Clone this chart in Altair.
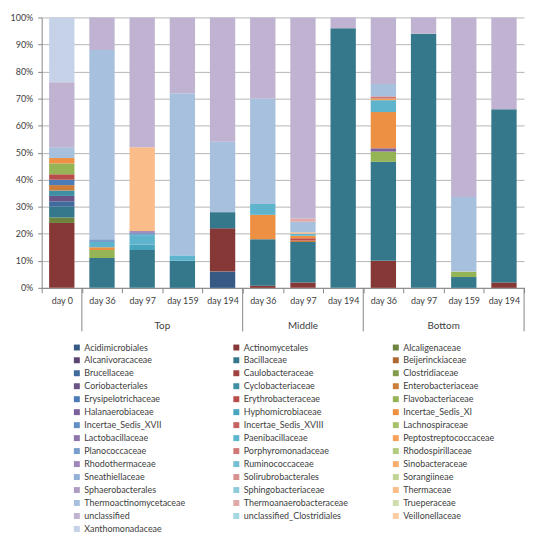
import altair as alt
import pandas as pd

# ---- categories ----
bars = ["0|day 0", "T|day 36", "T|day 97", "T|day 159", "T|day 194",
        "M|day 36", "M|day 97", "M|day 194",
        "B|day 36", "B|day 97", "B|day 159", "B|day 194"]

series = [
    "Acidimicrobiales", "Actinomycetales", "Alcaligenaceae",
    "Alcanivoracaceae", "Bacillaceae", "Beijerinckiaceae",
    "Brucellaceae", "Caulobacteraceae", "Clostridiaceae",
    "Coriobacteriales", "Cyclobacteriaceae", "Enterobacteriaceae",
    "Erysipelotrichaceae", "Erythrobacteraceae", "Flavobacteriaceae",
    "Halanaerobiaceae", "Hyphomicrobiaceae", "Incertae_Sedis_XI",
    "Incertae_Sedis_XVII", "Incertae_Sedis_XVIII", "Lachnospiraceae",
    "Lactobacillaceae", "Paenibacillaceae", "Peptostreptococcaceae",
    "Planococcaceae", "Porphyromonadaceae", "Rhodospirillaceae",
    "Rhodothermaceae", "Ruminococcaceae", "Sinobacteraceae",
    "Sneathiellaceae", "Solirubrobacterales", "Sorangiineae",
    "Sphaerobacterales", "Sphingobacteriaceae", "Thermaceae",
    "Thermoactinomycetaceae", "Thermoanaerobacteraceae", "Trueperaceae",
    "unclassified", "unclassified_Clostridiales", "Veillonellaceae",
    "Xanthomonadaceae",
]

# ---- values (% per bar, order as in `bars`) ----
acidimicrobiales = [0, 0, 0, 0, 6, 0, 0, 0, 0, 0, 0, 0]
actinomycetales = [24, 0, 0, 0, 16, 0.8, 2, 0, 10, 0, 0, 2]
alcaligenaceae = [2, 0, 0, 0, 0, 0, 0, 0, 0, 0, 0, 0]
bacillaceae = [4, 11, 14, 10, 6, 17.2, 15, 96, 36.6, 94, 4, 64]
brucellaceae = [2, 0, 0, 0, 0, 0, 0, 0, 0, 0, 0, 0]
coriobacteriales = [2, 0, 0, 0, 0, 0, 0, 0, 0, 0, 0, 0]
cyclobacteriaceae = [2, 0, 0, 0, 0, 0, 0, 0, 0, 0, 0, 0]
enterobacteriaceae = [2, 0, 0, 0, 0, 0, 0.5, 0, 0, 0, 0, 0]
erysipelotrichaceae = [2, 0, 0, 0, 0, 0, 0, 0, 0, 0, 0, 0]
erythrobacteraceae = [2, 0, 0, 0, 0, 0, 0.8, 0, 0, 0, 0, 0]
flavobacteriaceae = [4, 3, 0, 0, 0, 0, 0, 0, 3.8, 0, 2, 0]
halanaerobiaceae = [0, 0, 0, 0, 0, 0, 0, 0, 1.2, 0, 0, 0]
hyphomicrobiaceae = [0, 0, 2, 0, 0, 0, 0, 0, 0, 0, 0, 0]
incertae_sedis_xi = [2, 1, 0, 0, 0, 9, 1.0, 0, 13.4, 0, 0, 0]
paenibacillaceae = [0, 2, 3.5, 2, 0, 4, 0.7, 0, 4.4, 0, 0, 0]
peptostreptococcaceae = [0, 0, 0, 0, 0, 0, 0, 0, 0.6, 0, 0, 0]
planococcaceae = [0, 1, 0.8, 0, 0, 0, 0, 0, 0, 0, 0, 0]
porphyromonadaceae = [0, 0, 0, 0, 0, 0, 0, 0, 0.8, 0, 0, 0]
rhodothermaceae = [0, 0, 0.7, 0, 0, 0, 0, 0, 0, 0, 0, 0]
thermaceae = [0, 0, 31, 0, 0, 0, 0.6, 0, 0, 0, 0, 0]
thermoactinomycetaceae = [4, 70, 0, 60, 26, 39, 3.8, 0, 4.6, 0, 27.6, 0]
thermoanaerobacteraceae = [0, 0, 0, 0, 0, 0, 1.2, 0, 0, 0, 0, 0]
unclassified = [24, 12, 48, 28, 46, 30, 74.4, 4, 24.6, 6, 66.4, 34]
xanthomonadaceae = [24, 0, 0, 0, 0, 0, 0, 0, 0, 0, 0, 0]

values = {
    "Acidimicrobiales": acidimicrobiales,
    "Actinomycetales": actinomycetales,
    "Alcaligenaceae": alcaligenaceae,
    "Bacillaceae": bacillaceae,
    "Brucellaceae": brucellaceae,
    "Coriobacteriales": coriobacteriales,
    "Cyclobacteriaceae": cyclobacteriaceae,
    "Enterobacteriaceae": enterobacteriaceae,
    "Erysipelotrichaceae": erysipelotrichaceae,
    "Erythrobacteraceae": erythrobacteraceae,
    "Flavobacteriaceae": flavobacteriaceae,
    "Halanaerobiaceae": halanaerobiaceae,
    "Hyphomicrobiaceae": hyphomicrobiaceae,
    "Incertae_Sedis_XI": incertae_sedis_xi,
    "Paenibacillaceae": paenibacillaceae,
    "Peptostreptococcaceae": peptostreptococcaceae,
    "Planococcaceae": planococcaceae,
    "Porphyromonadaceae": porphyromonadaceae,
    "Rhodothermaceae": rhodothermaceae,
    "Thermaceae": thermaceae,
    "Thermoactinomycetaceae": thermoactinomycetaceae,
    "Thermoanaerobacteraceae": thermoanaerobacteraceae,
    "unclassified": unclassified,
    "Xanthomonadaceae": xanthomonadaceae,
}

groups_edge = ["Top", "Bottom"]
groups_edge_keys = ["T|day 159", "B|day 159"]
groups_mid = ["Middle"]
groups_mid_keys = ["M|day 97"]
separator_keys = ["T|day 36", "M|day 36", "B|day 36"]
end_keys = ["B|day 194"]

# ---- style ----
colors = [
    "#375A84", "#863836", "#6D833E", "#5A4671", "#35788B", "#AD6931",
    "#426B9D", "#9F4240", "#819B4A", "#6A5386", "#3E8FA4", "#CD7D3A",
    "#4C7CB5", "#B84D4A", "#95B455", "#7B609C", "#48A5BE", "#ED9043",
    "#618EC4", "#C6625F", "#A5C26A", "#8D74AB", "#5DB4CC", "#F8A159",
    "#789ECC", "#CF7876", "#B2CB7F", "#9D88B7", "#74BFD3", "#F9AE71",
    "#90B0D5", "#D7918F", "#C0D496", "#AF9DC4", "#8ECBDB", "#FABD8A",
    "#A7C0DE", "#E0A8A6", "#CDDDAC", "#C0B2D1", "#A5D6E3", "#FBCBA3",
    "#C6D2E8",
]

rows = []
for name, vals in values.items():
    idx = series.index(name)
    for b, v in zip(bars, vals):
        if v > 0:
            rows.append({"key": b, "taxon": name, "idx": idx, "value": v})
df = pd.DataFrame(rows)

W, H = 487, 273
xscale = alt.Scale(domain=bars, paddingInner=0, paddingOuter=0)
xaxis = alt.Axis(labelExpr="split(datum.value, '|')[1]", labelAngle=0,
                 tickBand="extent", ticks=True, tickSize=5,
                 tickColor="#868686", domainColor="#868686",
                 labelPadding=4, labelFontSize=9, labelColor="#404040",
                 grid=False, title=None, labelOverlap=False)

bar_layer = alt.Chart(df).mark_bar(width=alt.RelativeBandSize(0.63)).encode(
    x=alt.X("key:N", scale=xscale, axis=xaxis),
    y=alt.Y("value:Q", stack="zero", title=None,
            scale=alt.Scale(domain=[0, 100], nice=False),
            axis=alt.Axis(values=list(range(0, 101, 10)),
                          labelExpr="datum.value + '%'",
                          tickSize=4, labelPadding=5, tickColor="#868686",
                          domainColor="#868686", gridColor="#B5B5B5",
                          labelFontSize=9, labelColor="#404040")),
    color=alt.Color("taxon:N", scale=alt.Scale(domain=series, range=colors),
                    legend=alt.Legend(orient="none", legendX=31, legendY=328.5,
                                      direction="horizontal",
                                      columns=3, gridAlign="all", title=None,
                                      symbolType="square", symbolSize=36,
                                      symbolStrokeWidth=0, labelFontSize=9,
                                      labelColor="#404040", labelLimit=220,
                                      symbolLimit=0,
                                      rowPadding=3.1, columnPadding=43,
                                      padding=0, labelOffset=3)),
    order=alt.Order("idx:Q", sort="ascending"),
)

edge_df = pd.DataFrame({"key": groups_edge_keys, "label": groups_edge})
mid_df = pd.DataFrame({"key": groups_mid_keys, "label": groups_mid})
sep_df = pd.DataFrame({"key": separator_keys})
end_df = pd.DataFrame({"key": end_keys})

text_edge = alt.Chart(edge_df).mark_text(fontSize=10, color="#404040", baseline="middle").encode(
    x=alt.X("key:N", scale=xscale, bandPosition=0, axis=xaxis),
    y=alt.value(312), text="label:N")
text_mid = alt.Chart(mid_df).mark_text(fontSize=10, color="#404040", baseline="middle").encode(
    x=alt.X("key:N", scale=xscale, bandPosition=0.5, axis=xaxis),
    y=alt.value(312), text="label:N")
sep_rules = alt.Chart(sep_df).mark_rule(color="#868686", strokeWidth=1).encode(
    x=alt.X("key:N", scale=xscale, bandPosition=0, axis=xaxis),
    y=alt.value(H), y2=alt.value(317))
end_rules = alt.Chart(end_df).mark_rule(color="#868686", strokeWidth=1).encode(
    x=alt.X("key:N", scale=xscale, bandPosition=1, axis=xaxis),
    y=alt.value(H), y2=alt.value(317))

chart = alt.layer(bar_layer, sep_rules, end_rules, text_edge, text_mid).properties(
    width=W, height=H,
    autosize=alt.AutoSizeParams(type="none"),
    padding={"left": 34, "top": 7, "right": 8, "bottom": 248},
).configure(font="Lato").configure_view(stroke=None)

chart.save("out.html", embed_options={"renderer": "svg", "actions": False})
